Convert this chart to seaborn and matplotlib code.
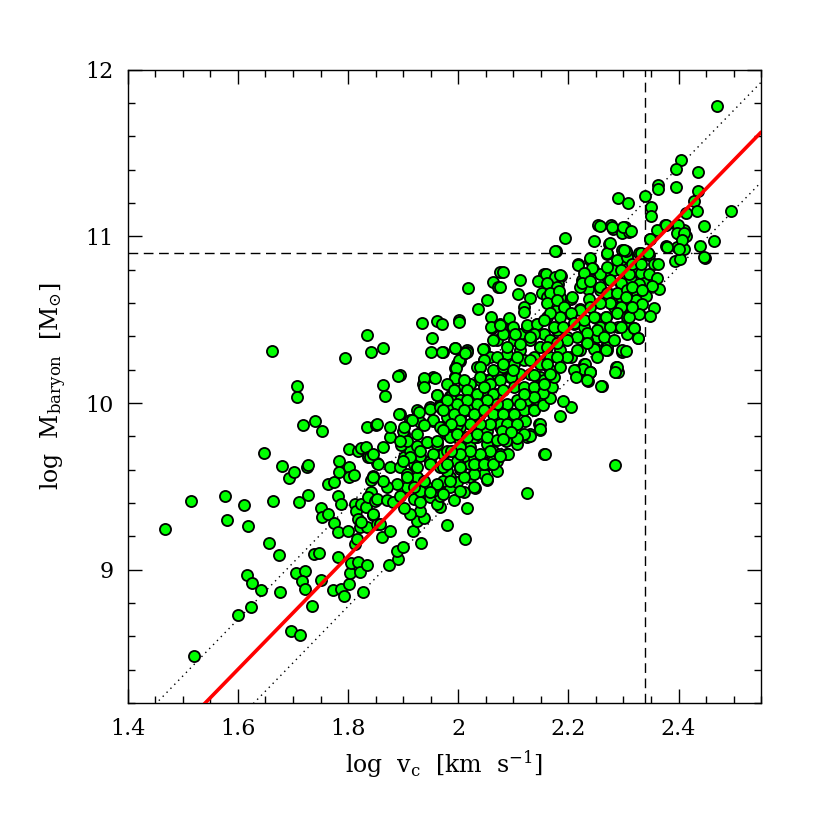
import numpy as np
import pandas as pd
import matplotlib
matplotlib.use('Agg')
import matplotlib.pyplot as plt
from matplotlib.ticker import MultipleLocator, FixedLocator, FixedFormatter
import seaborn as sns

# (log v_c, log M_baryon), grouped by region
faint = [
    (1.468, 9.242), (1.521, 8.483), (1.514, 9.414), (1.577, 9.440), (1.581, 9.300),
    (1.611, 9.388), (1.618, 9.264), (1.600, 8.731), (1.624, 8.779), (1.617, 8.967),
    (1.625, 8.919), (1.641, 8.877), (1.647, 9.703), (1.662, 10.312), (1.664, 9.412),
    (1.657, 9.160), (1.674, 9.090), (1.676, 8.869), (1.680, 9.625), (1.693, 9.553),
    (1.702, 9.585), (1.708, 10.104), (1.708, 10.038), (1.719, 9.867), (1.739, 9.893),
    (1.752, 9.833), (1.725, 9.615), (1.728, 9.631), (1.710, 9.404), (1.727, 9.450),
    (1.696, 8.633), (1.712, 8.609), (1.705, 8.979), (1.721, 8.993), (1.716, 8.933),
    (1.721, 8.883), (1.735, 8.783), (1.738, 9.094), (1.747, 9.102), (1.750, 8.939),
    (1.750, 9.368), (1.752, 9.314), (1.764, 9.334), (1.764, 9.515), (1.775, 9.525),
    (1.775, 9.280), (1.781, 9.440), (1.787, 9.392), (1.781, 9.226), (1.782, 9.074),
    (1.784, 9.651), (1.783, 9.589), (1.773, 8.877), (1.788, 8.887), (1.793, 8.843),
    (1.795, 10.268), (1.801, 9.727), (1.801, 9.615), (1.801, 9.555), (1.810, 9.571),
    (1.799, 9.234), (1.802, 8.917), (1.804, 8.979), (1.806, 9.039), (1.818, 9.044),
    (1.822, 8.985), (1.827, 8.865), (1.834, 9.027), (1.812, 9.394), (1.815, 9.354),
    (1.818, 9.304), (1.822, 9.254), (1.812, 9.154), (1.817, 9.184), (1.824, 9.394),
    (1.832, 9.374), (1.834, 9.254), (1.824, 9.284), (1.818, 9.715), (1.824, 9.731),
    (1.832, 9.735), (1.836, 9.675), (1.834, 10.410), (1.842, 10.304), (1.834, 9.855),
    (1.850, 9.869), (1.841, 9.539), (1.846, 9.561), (1.852, 9.639), (1.841, 9.464),
    (1.836, 9.434), (1.848, 9.414), (1.845, 9.330), (1.853, 9.274),
]

core_low = [
    (2.016, 9.368), (1.979, 9.270), (2.013, 9.182), (1.932, 9.158), (1.918, 9.230),
    (1.874, 9.029), (1.891, 9.065), (1.888, 9.110), (1.899, 9.134), (1.862, 9.194),
    (1.876, 9.234), (1.992, 9.418), (1.966, 9.378), (2.053, 9.538), (2.030, 9.490),
    (2.010, 9.464), (1.925, 9.294), (1.937, 9.310), (1.931, 9.354), (1.913, 9.334),
    (1.846, 9.334), (1.858, 9.274), (1.852, 9.424), (1.870, 9.418), (1.882, 9.404),
    (1.901, 9.370), (1.895, 9.444), (1.919, 9.424), (1.931, 9.404), (1.949, 9.434),
    (1.961, 9.394), (1.967, 9.444), (1.955, 9.474), (1.985, 9.494), (1.998, 9.524),
    (2.022, 9.554), (2.034, 9.594), (2.046, 9.574), (2.058, 9.635), (2.070, 9.655),
    (2.046, 9.645), (2.022, 9.635), (2.004, 9.605), (1.985, 9.554), (1.973, 9.534),
    (1.961, 9.504), (1.943, 9.494), (1.931, 9.474), (1.907, 9.494), (1.888, 9.514),
    (1.870, 9.494), (1.864, 9.534), (1.846, 9.554), (1.840, 9.675), (1.855, 9.635),
    (1.876, 9.615), (1.895, 9.615), (1.907, 9.574), (1.925, 9.554), (1.919, 9.635),
    (1.901, 9.675), (1.913, 9.715), (1.931, 9.685), (1.949, 9.655), (1.967, 9.615),
    (1.979, 9.594), (1.998, 9.645), (2.010, 9.685), (1.992, 9.715), (1.973, 9.695),
    (1.961, 9.755), (1.943, 9.765), (1.925, 9.745), (1.896, 9.751), (1.876, 9.795),
    (1.864, 9.735), (1.846, 9.695), (1.901, 9.815), (1.979, 9.815), (2.004, 9.775),
    (2.022, 9.735), (2.034, 9.795), (2.052, 9.755), (2.064, 9.715),
]

core_fill = [
    (1.937, 10.146), (1.955, 10.156), (1.936, 10.112), (1.961, 10.046), (1.985, 10.040),
    (1.998, 10.236), (1.995, 10.156), (2.016, 10.116), (2.040, 10.216), (2.052, 10.136),
    (2.076, 10.196), (2.094, 10.156), (1.925, 9.956), (1.913, 9.896), (1.931, 9.885),
    (1.949, 9.976), (1.967, 9.986), (2.004, 10.016), (2.016, 9.956), (2.040, 9.936),
    (2.064, 9.976), (2.088, 9.956), (2.101, 9.875), (2.076, 9.855), (2.052, 9.835),
    (2.028, 9.795), (2.004, 9.855), (1.979, 9.875), (1.955, 9.895), (1.900, 9.835),
    (1.907, 9.775), (1.925, 9.815), (1.943, 9.765), (1.961, 9.775), (1.985, 9.795),
    (2.004, 9.735), (1.979, 9.715), (1.955, 9.695), (1.931, 9.715), (1.913, 9.675),
    (1.900, 9.655), (1.925, 9.615), (1.949, 9.635), (1.973, 9.615), (1.998, 9.655),
    (2.028, 9.675), (2.046, 9.635), (2.064, 9.655), (2.088, 9.695), (2.070, 9.595),
    (2.052, 9.545), (2.028, 9.575), (2.010, 9.555), (1.985, 9.535), (1.961, 9.515),
    (1.937, 9.535), (1.919, 9.495), (1.907, 9.555), (1.949, 9.465), (1.973, 9.455),
    (2.004, 9.475), (2.028, 9.495), (1.895, 10.166), (1.895, 9.935), (1.895, 9.775),
]

core_up = [
    (2.018, 10.693), (2.053, 10.621), (2.035, 10.565), (2.064, 10.729), (2.072, 10.697),
    (2.076, 10.786), (2.059, 10.517), (2.061, 10.449), (1.935, 10.481), (1.962, 10.493),
    (2.001, 10.497), (1.952, 10.389), (1.950, 10.305), (1.973, 10.309), (1.995, 10.333),
    (2.016, 10.321), (2.008, 10.297), (2.004, 10.253), (2.046, 10.325), (1.864, 10.333),
    (1.891, 10.160), (1.864, 10.108), (1.867, 10.044), (1.937, 10.152), (1.937, 10.096),
    (1.958, 10.152), (1.961, 10.048), (1.995, 10.212), (1.995, 10.156), (1.985, 10.036),
    (1.892, 9.932), (1.852, 9.872), (1.928, 9.944), (1.916, 9.896), (1.949, 9.964),
    (1.967, 9.976), (1.985, 9.986), (2.010, 10.100), (2.022, 10.116), (2.034, 10.217),
    (2.046, 10.257), (2.058, 10.277), (2.070, 10.377), (2.040, 10.136), (2.058, 10.136),
    (2.070, 10.176), (2.028, 10.036), (2.052, 10.036), (2.070, 10.056), (2.016, 9.976),
    (2.040, 9.956), (2.004, 9.916), (1.979, 9.916), (1.955, 9.896), (1.937, 9.866),
    (1.967, 9.856), (1.998, 9.866), (1.876, 9.856), (1.901, 9.856),
]

core_mid = [
    (1.970, 10.477), (2.001, 10.489), (1.970, 10.309), (1.994, 10.329), (2.016, 10.305),
    (2.001, 10.257), (1.996, 10.212), (1.995, 10.152), (2.012, 10.301), (2.045, 10.325),
    (2.059, 10.457), (2.076, 10.473), (2.097, 10.457), (2.064, 10.381), (2.082, 10.413),
    (2.101, 10.377), (2.113, 10.417), (2.125, 10.457), (2.143, 10.477), (2.155, 10.417),
    (2.131, 10.377), (2.149, 10.337), (2.113, 10.317), (2.089, 10.297), (2.070, 10.277),
    (2.046, 10.257), (2.040, 10.216), (2.064, 10.196), (2.082, 10.216), (2.101, 10.236),
    (2.119, 10.257), (2.137, 10.277), (2.155, 10.236), (2.149, 10.156), (2.131, 10.176),
    (2.113, 10.176), (2.095, 10.156), (2.076, 10.136), (2.058, 10.116), (2.040, 10.156),
    (2.022, 10.116), (2.010, 10.136), (1.979, 10.116), (1.992, 10.076), (2.016, 10.076),
    (2.034, 10.056), (2.046, 10.096), (2.064, 10.056), (2.082, 10.076), (2.101, 10.096),
    (2.119, 10.096), (2.137, 10.096), (2.155, 10.076), (2.143, 10.016), (2.125, 10.016),
    (2.107, 10.016), (2.089, 9.996), (2.070, 9.996), (2.052, 10.016), (2.034, 9.996),
    (2.016, 10.016), (1.998, 9.996), (1.979, 10.016), (1.973, 9.956), (1.992, 9.936),
    (2.010, 9.956), (2.028, 9.936), (2.046, 9.956), (2.064, 9.936), (2.082, 9.936),
    (2.101, 9.936), (2.119, 9.956), (2.137, 9.956), (2.147, 9.876), (2.149, 9.836),
    (2.131, 9.816), (2.113, 9.816), (2.095, 9.836), (2.076, 9.876), (2.058, 9.876),
    (2.040, 9.876), (2.022, 9.876), (2.004, 9.896), (1.986, 9.876), (1.973, 9.836),
    (1.998, 9.816), (2.016, 9.796), (2.034, 9.816), (2.052, 9.796), (2.070, 9.776),
    (2.089, 9.776), (2.107, 9.756), (2.125, 9.796), (2.089, 9.695), (2.076, 9.695),
    (2.058, 9.715), (2.040, 9.695), (2.022, 9.715), (2.004, 9.695), (1.986, 9.715),
    (2.028, 9.635), (2.046, 9.635), (2.064, 9.635), (2.155, 9.695), (1.979, 9.635),
    (2.004, 9.615),
]

core_right = [
    (2.124, 9.461), (2.158, 9.693), (2.285, 9.631), (2.090, 9.695), (2.076, 9.685),
    (2.185, 9.921), (2.204, 9.976), (2.190, 10.012), (2.261, 10.102), (2.235, 10.130),
    (2.215, 10.186), (2.240, 10.186), (2.286, 10.186), (2.148, 9.875), (2.148, 9.845),
    (2.131, 9.805), (2.119, 9.815), (2.106, 9.791), (2.087, 9.771), (2.122, 9.895),
    (2.137, 9.956), (2.154, 9.986), (2.167, 10.032), (2.154, 10.060), (2.170, 10.096),
    (2.155, 10.136), (2.173, 10.156), (2.137, 10.036), (2.119, 10.056), (2.113, 9.996),
    (2.101, 9.936), (2.089, 9.875), (2.079, 9.835), (2.107, 9.875), (2.095, 9.825),
    (2.082, 9.785),
]

bright = [
    (2.290, 11.230), (2.308, 11.202), (2.193, 10.989), (2.177, 10.913), (2.253, 11.066),
    (2.278, 11.066), (2.281, 11.042), (2.302, 11.058), (2.297, 11.022), (2.246, 10.973),
    (2.274, 10.957), (2.270, 10.897), (2.298, 10.917), (2.307, 10.897), (2.218, 10.833),
    (2.239, 10.861), (2.244, 10.805), (2.082, 10.789), (2.113, 10.741), (2.076, 10.697),
    (2.156, 10.777), (2.144, 10.733), (2.173, 10.753), (2.187, 10.765), (2.181, 10.717),
    (2.171, 10.693), (2.225, 10.737), (2.235, 10.685), (2.222, 10.697), (2.109, 10.657),
    (2.130, 10.633), (2.153, 10.661), (2.161, 10.637), (2.185, 10.637), (2.205, 10.625),
    (2.238, 10.625), (2.258, 10.677), (2.270, 10.757), (2.282, 10.797), (2.295, 10.857),
    (2.258, 10.777), (2.295, 10.717), (2.307, 10.757), (2.276, 10.657), (2.295, 10.637),
    (2.119, 10.577), (2.120, 10.545), (2.093, 10.513), (2.076, 10.466), (2.100, 10.456),
    (2.103, 10.416), (2.125, 10.468), (2.143, 10.476), (2.137, 10.416), (2.161, 10.516),
    (2.180, 10.557), (2.192, 10.577), (2.204, 10.537), (2.222, 10.567), (2.210, 10.476),
    (2.228, 10.456), (2.250, 10.513), (2.269, 10.516), (2.258, 10.456), (2.282, 10.577),
    (2.290, 10.456), (2.307, 10.486), (2.307, 10.416), (2.252, 10.396), (2.234, 10.376),
    (2.270, 10.356), (2.270, 10.316), (2.250, 10.324), (2.298, 10.308), (2.198, 10.396),
    (2.180, 10.436), (2.167, 10.376), (2.149, 10.336), (2.131, 10.396), (2.113, 10.356),
    (2.089, 10.336), (2.082, 10.236), (2.107, 10.276), (2.131, 10.256), (2.149, 10.236),
    (2.167, 10.276), (2.185, 10.316), (2.204, 10.276), (2.222, 10.316), (2.213, 10.196),
    (2.229, 10.236), (2.240, 10.188), (2.286, 10.216), (2.291, 10.188), (2.167, 10.196),
    (2.100, 10.196), (2.137, 10.166),
]

bright_mid = [
    (2.176, 10.910), (2.239, 10.870), (2.218, 10.830), (2.243, 10.810), (2.159, 10.774),
    (2.176, 10.758), (2.185, 10.766), (2.228, 10.778), (2.224, 10.722), (2.240, 10.734),
    (2.161, 10.718), (2.179, 10.698), (2.167, 10.658), (2.183, 10.670), (2.207, 10.638),
    (2.162, 10.598), (2.179, 10.618), (2.192, 10.578), (2.270, 10.898), (2.288, 10.858),
    (2.307, 10.878), (2.270, 10.818), (2.295, 10.798), (2.319, 10.818), (2.331, 10.778),
    (2.313, 10.738), (2.295, 10.718), (2.276, 10.738), (2.258, 10.698), (2.270, 10.658),
    (2.288, 10.658), (2.307, 10.678), (2.325, 10.658), (2.337, 10.718), (2.328, 10.598),
    (2.313, 10.598), (2.295, 10.578), (2.276, 10.598), (2.258, 10.598), (2.240, 10.578),
    (2.221, 10.558), (2.204, 10.538), (2.185, 10.518), (2.167, 10.538), (2.155, 10.498),
    (2.173, 10.458), (2.191, 10.458), (2.210, 10.478), (2.228, 10.498), (2.246, 10.518),
    (2.268, 10.518), (2.288, 10.538), (2.307, 10.518), (2.328, 10.538), (2.320, 10.453),
    (2.326, 10.393), (2.297, 10.317), (2.270, 10.337), (2.268, 10.317), (2.246, 10.327),
    (2.252, 10.277), (2.230, 10.237), (2.227, 10.205), (2.239, 10.185), (2.286, 10.205),
    (2.288, 10.217), (2.284, 10.185), (2.259, 10.104), (2.210, 10.197), (2.213, 10.156),
    (2.234, 10.137), (2.276, 10.458), (2.295, 10.458), (2.252, 10.438), (2.234, 10.418),
    (2.216, 10.398), (2.198, 10.378), (2.179, 10.358), (2.161, 10.337), (2.264, 10.398),
    (2.282, 10.378), (2.234, 10.358), (2.216, 10.317), (2.198, 10.277), (2.179, 10.277),
    (2.161, 10.237), (2.185, 10.217), (2.167, 10.177), (2.155, 10.116),
]

brightest = [
    (2.447, 11.062), (2.465, 10.974), (2.439, 10.942), (2.448, 10.870), (2.410, 11.038),
    (2.413, 11.002), (2.401, 11.014), (2.397, 11.070), (2.375, 11.066), (2.361, 11.038),
    (2.378, 10.942), (2.398, 10.934), (2.410, 10.926), (2.394, 10.850), (2.402, 10.866),
    (2.348, 10.986), (2.329, 10.898), (2.346, 10.890), (2.355, 10.837), (2.362, 10.833),
    (2.346, 10.777), (2.361, 10.753), (2.364, 10.685), (2.351, 10.705), (2.341, 10.641),
    (2.356, 10.569), (2.348, 10.525), (2.319, 10.449), (2.327, 10.393), (2.304, 10.312),
    (2.310, 11.026), (2.305, 10.914), (2.328, 10.717), (2.316, 10.697), (2.322, 10.617),
    (2.334, 10.597), (2.328, 10.537), (2.310, 10.517), (2.316, 10.577), (2.304, 10.637),
    (2.334, 10.677), (2.310, 10.777), (2.316, 10.837), (2.331, 10.837),
    (2.469, 11.785), (2.405, 11.459), (2.395, 11.403), (2.436, 11.385), (2.362, 11.306),
    (2.362, 11.286), (2.395, 11.298), (2.339, 11.242), (2.350, 11.178), (2.350, 11.122),
    (2.436, 11.270), (2.429, 11.210), (2.434, 11.150), (2.413, 11.138), (2.495, 11.154),
    (2.399, 11.070), (2.377, 11.066), (2.349, 10.986), (2.280, 11.058), (2.299, 11.054),
    (2.313, 11.030), (2.258, 11.062), (2.276, 10.958), (2.301, 10.918), (2.331, 10.902),
    (2.344, 10.898), (2.398, 11.018), (2.410, 11.018), (2.407, 10.978), (2.379, 10.938),
    (2.401, 10.926), (2.447, 10.878),
]

# fit line and scatter band, cuts
fit_intercept = 2.973
fit_slope = 3.393
band = 0.30
vc_cut = 2.34
mb_cut = 10.9

x_ticks = [1.4, 1.6, 1.8, 2.0, 2.2, 2.4]
x_ticklabels = ['1.4', '1.6', '1.8', '2', '2.2', '2.4']
y_ticks = [9, 10, 11, 12]
y_ticklabels = ['9', '10', '11', '12']

groups = (faint + core_low + core_fill + core_up + core_mid + core_right
          + bright + bright_mid + brightest)
df = pd.DataFrame(groups, columns=['logv', 'logm'])

sns.set_style('ticks')
plt.rcParams['font.family'] = ['DejaVu Serif']
plt.rcParams['mathtext.fontset'] = 'dejavuserif'
plt.rcParams['axes.unicode_minus'] = False
for key in ['text.color', 'axes.labelcolor', 'xtick.color', 'ytick.color',
            'axes.edgecolor']:
    plt.rcParams[key] = 'black'

fig = plt.figure(figsize=(8.3, 8.3), dpi=100)
ax = fig.add_axes([0.154, 0.153, 0.763, 0.763])

sns.scatterplot(data=df, x='logv', y='logm', ax=ax, color='#00ff00',
                edgecolor='black', linewidth=1.3, s=64, zorder=3, legend=False)

xl = np.array([1.4, 2.55])
ax.plot(xl, fit_intercept + fit_slope * xl, color='red', lw=2.6, zorder=4)
ax.plot(xl, fit_intercept + band + fit_slope * xl, color='black', lw=1.0,
        ls=(0, (1, 3)), zorder=2)
ax.plot(xl, fit_intercept - band + fit_slope * xl, color='black', lw=1.0,
        ls=(0, (1, 3)), zorder=2)
ax.axvline(vc_cut, color='black', lw=1.0, ls=(0, (7, 4)), zorder=2)
ax.axhline(mb_cut, color='black', lw=1.0, ls=(0, (7, 4)), zorder=2)

ax.set_xlim(1.4, 2.55)
ax.set_ylim(8.2, 12)
ax.xaxis.set_major_locator(FixedLocator(x_ticks))
ax.xaxis.set_major_formatter(FixedFormatter(x_ticklabels))
ax.yaxis.set_major_locator(FixedLocator(y_ticks))
ax.yaxis.set_major_formatter(FixedFormatter(y_ticklabels))
ax.xaxis.set_minor_locator(MultipleLocator(0.05))
ax.yaxis.set_minor_locator(MultipleLocator(0.2))
ax.tick_params(which='both', direction='in', top=True, right=True, width=1.0,
               labelsize=16, colors='black')
ax.tick_params(axis='x', pad=11)
ax.tick_params(axis='y', pad=10)
ax.tick_params(which='major', length=10)
ax.tick_params(which='minor', length=5)
for sp in ax.spines.values():
    sp.set_linewidth(1.0)
    sp.set_color('black')

ax.set_xlabel(r'log  v$_{\rm c}$  [km  s$^{-1}$]', fontsize=17, labelpad=6)
ax.set_ylabel(r'log  M$_{\rm baryon}$  [M$_{\odot}$]', fontsize=17, labelpad=12)

fig.savefig('out.png', dpi=100)
